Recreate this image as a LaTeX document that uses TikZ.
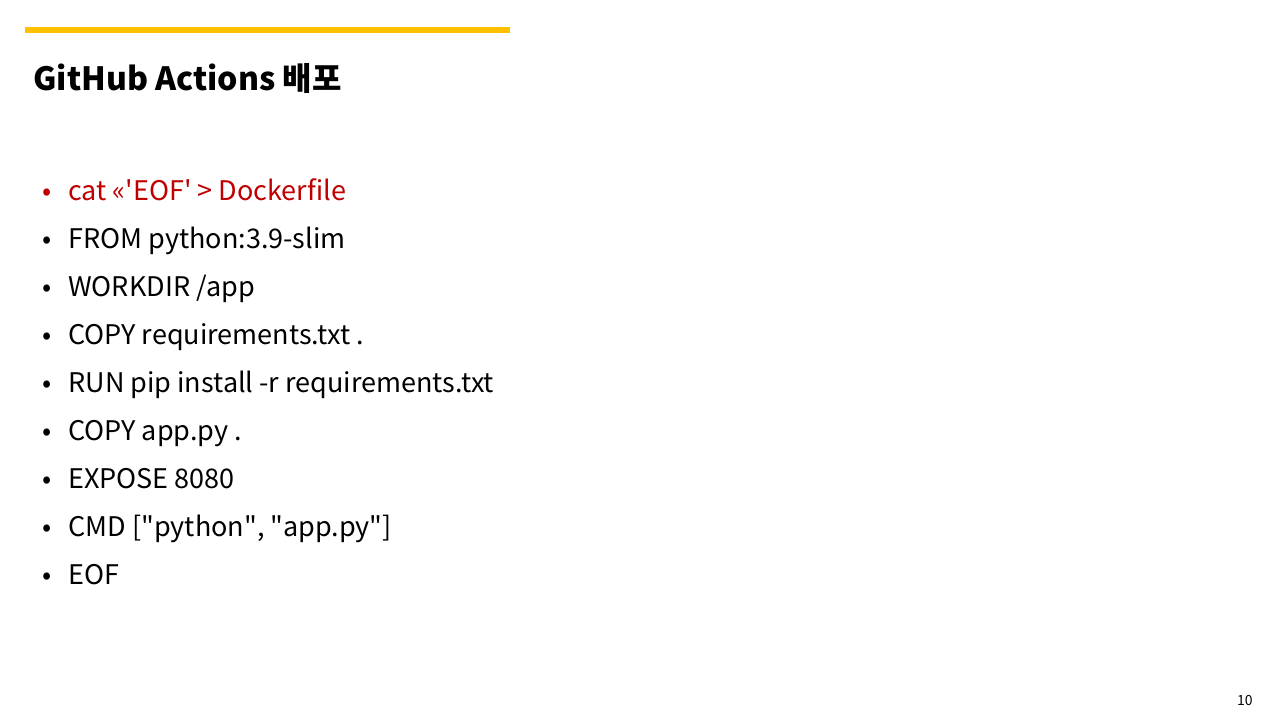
\documentclass[tikz,border=0pt]{standalone}
\usepackage{fontspec}
\setmainfont{Noto Sans CJK KR}
\definecolor{barYellow}{HTML}{FFC000}
\definecolor{cmdRed}{HTML}{C00000}
\begin{document}
\begin{tikzpicture}[x=0.5pt,y=-0.5pt,
   line/.style={anchor=base west, inner sep=0pt, font=\fontsize{13.5}{16}\selectfont},
   dot/.style={anchor=base west, inner sep=0pt, font=\fontsize{13.5}{16}\selectfont}]
   \useasboundingbox (0,0) rectangle (1280,720);
   % bar and title
   \fill[barYellow] (25,27) rectangle (510,33);
   \node[anchor=base west, inner sep=0pt, font=\bfseries\fontsize{16}{19}\selectfont] (title) at (33,90) {GitHub Actions 배포};
   % lines
   \node[line, text=cmdRed] (l1) at (68,200) {cat <<\textquotesingle EOF\textquotesingle{} > Dockerfile};
   \node[dot, text=cmdRed] at (42,200) {•};
   \foreach \i/\t in {2/{FROM python:3.9-slim},
       3/{WORKDIR /app},
       4/{COPY requirements.txt .},
       5/{RUN pip install -r requirements.txt},
       6/{COPY app.py .},
       7/{EXPOSE 8080},
       8/{CMD [\textquotedbl python\textquotedbl, \textquotedbl app.py\textquotedbl]},
       9/{EOF}}
   {
       \node[line] (l\i) at (68,152+48*\i) {\t};
       \node[dot] at (42,152+48*\i) {•};
   };
   \node[anchor=base east, inner sep=0pt, font=\fontsize{7}{8}\selectfont] (page) at (1253,705) {10};
\end{tikzpicture}
\end{document}
